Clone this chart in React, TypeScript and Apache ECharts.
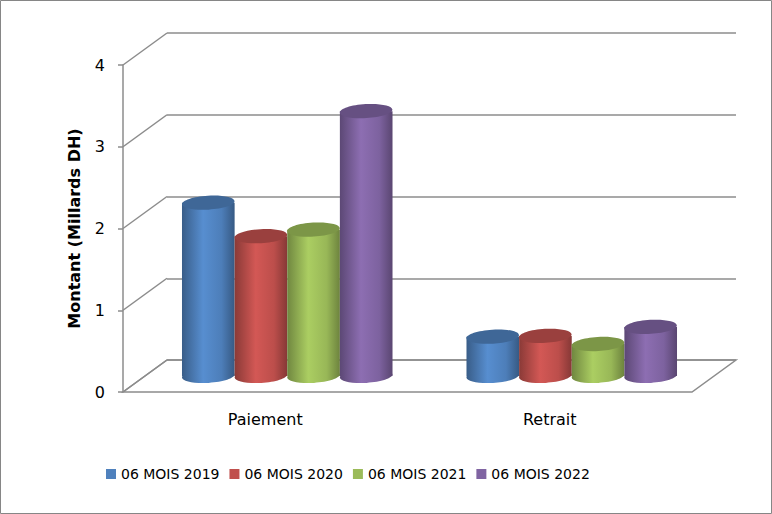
import React, { useEffect, useRef } from "react";
import * as echarts from "echarts";

const categories = ["Paiement", "Retrait"];
const seriesNames = ["06 MOIS 2019", "06 MOIS 2020", "06 MOIS 2021", "06 MOIS 2022"];
const values2019 = [2.12, 0.48];
const values2020 = [1.71, 0.49];
const values2021 = [1.79, 0.39];
const values2022 = [3.24, 0.6];
const yTicks = [0, 1, 2, 3, 4];

const seriesValues = [values2019, values2020, values2021, values2022];
const colors = ["#4F81BD", "#C0504D", "#9BBB59", "#8064A2"];

// depth offset of the 3D box (front edge relative to back wall)
const DX = -44;
const DY = 32;
const FONT = "DejaVu Sans";

const shade = (hex: string, f: number) => {
  const n = parseInt(hex.slice(1), 16);
  const ch = (v: number) => Math.max(0, Math.min(255, Math.round(v * f)));
  const r = ch((n >> 16) & 255);
  const g = ch((n >> 8) & 255);
  const b = ch(n & 255);
  return `rgb(${r},${g},${b})`;
};

const App = () => {
  const chartRef = useRef(null);

  // eslint-disable-next-line consistent-return
  useEffect(() => {
    document.body.style.margin = "0";
    if (chartRef.current) {
      const chart = echarts.init(chartRef.current, undefined, { renderer: "svg" });

      const cylinders = seriesValues.map((vals, i) => ({
        name: seriesNames[i],
        type: "custom",
        xAxisIndex: 0,
        yAxisIndex: 0,
        z: 5,
        itemStyle: { color: colors[i] },
        encode: { x: 0, y: 1 },
        data: vals.map((v, c) => [c, v]),
        renderItem(params: any, api: any) {
          const cat = api.value(0);
          const top = api.coord([cat, api.value(1)]);
          const base = api.coord([cat, 0]);
          const barW = api.size([1, 0])[0] * 0.185;
          const cx = top[0] + (i - 1.5) * barW + DX / 2;
          const yTop = top[1] + DY / 2;
          const yBase = base[1] + DY / 2;
          const rx = barW / 2;
          const ry = 7;
          const body = new echarts.graphic.LinearGradient(0, 0, 1, 0, [
            { offset: 0, color: shade(colors[i], 0.72) },
            { offset: 0.4, color: shade(colors[i], 1.1) },
            { offset: 0.75, color: shade(colors[i], 0.98) },
            { offset: 1, color: shade(colors[i], 0.7) },
          ]);
          return {
            type: "group",
            children: [
              {
                type: "ellipse",
                shape: { cx, cy: yBase, rx, ry },
                rotation: 0.06,
                originX: cx,
                originY: yBase,
                style: { fill: body },
              },
              {
                type: "rect",
                shape: { x: cx - rx, y: yTop, width: barW, height: yBase - yTop },
                style: { fill: body },
              },
              {
                type: "ellipse",
                shape: { cx, cy: yTop, rx, ry },
                rotation: 0.06,
                originX: cx,
                originY: yTop,
                style: { fill: shade(colors[i], 0.8) },
              },
            ],
          };
        },
      }));

      const options: any = {
        animation: false,
        color: colors,
        textStyle: { fontFamily: FONT },
        graphic: [
          {
            type: "rect",
            shape: { x: 0.5, y: 0.5, width: 771, height: 513 },
            style: { fill: "none", stroke: "#868686", lineWidth: 1 },
          },
        ],
        grid: [
          { left: 167, right: 36, top: 33, bottom: 154 },
          { left: 123, right: 80, top: 65, bottom: 122 },
        ],
        legend: {
          bottom: 28,
          left: 101,
          icon: "rect",
          itemWidth: 10,
          itemHeight: 10,
          itemGap: 10,
          data: seriesNames,
          textStyle: { fontFamily: FONT, fontSize: 14, color: "#000" },
        },
        xAxis: [
          { type: "category", gridIndex: 0, data: categories, show: false },
          {
            type: "category",
            gridIndex: 1,
            data: categories,
            axisLine: { show: false },
            axisTick: { show: false },
            axisLabel: { fontFamily: FONT, fontSize: 16, color: "#000", margin: 19 },
          },
        ],
        yAxis: [
          {
            type: "value",
            gridIndex: 0,
            min: 0,
            max: 4,
            interval: 1,
            axisLine: { show: false },
            axisTick: { show: false },
            axisLabel: { show: false },
            splitLine: { lineStyle: { color: "#8c8c8c", width: 1.5 } },
          },
          {
            type: "value",
            gridIndex: 1,
            min: 0,
            max: 4,
            interval: 1,
            name: "Montant (Millards DH)",
            nameLocation: "middle",
            nameRotate: 90,
            nameGap: 41,
            nameTextStyle: { fontFamily: FONT, fontSize: 16, fontWeight: "bold", color: "#000" },
            axisLine: { show: true, lineStyle: { color: "#8c8c8c", width: 1.5 } },
            axisTick: { show: true, length: 5, lineStyle: { color: "#8c8c8c", width: 1.5 } },
            axisLabel: { fontFamily: FONT, fontSize: 16, color: "#000", margin: 18 },
            splitLine: { show: false },
          },
        ],
        series: [
          {
            type: "custom",
            name: "wall",
            xAxisIndex: 0,
            yAxisIndex: 0,
            z: 2,
            silent: true,
            encode: { x: 0, y: 1 },
            data: yTicks.map((t) => [0, t]),
            renderItem(params: any, api: any) {
              const cs = params.coordSys;
              const y = api.coord([0, api.value(1)])[1];
              const stroke = { stroke: "#8c8c8c", lineWidth: 1.5, fill: "none" };
              const children: any[] = [
                {
                  type: "line",
                  shape: { x1: cs.x, y1: y, x2: cs.x + DX, y2: y + DY },
                  style: stroke,
                },
              ];
              if (api.value(1) === 0) {
                children.push({
                  type: "polygon",
                  shape: {
                    points: [
                      [cs.x, y],
                      [cs.x + cs.width, y],
                      [cs.x + cs.width + DX, y + DY],
                      [cs.x + DX, y + DY],
                    ],
                  },
                  style: stroke,
                });
              }
              return { type: "group", children };
            },
          },
          ...cylinders,
        ],
      };
      chart.setOption(options);
      return () => {
        chart.dispose();
      };
    }
  }, []);

  return <div ref={chartRef} style={{ width: "772px", height: "514px" }} />;
};

export default App;
